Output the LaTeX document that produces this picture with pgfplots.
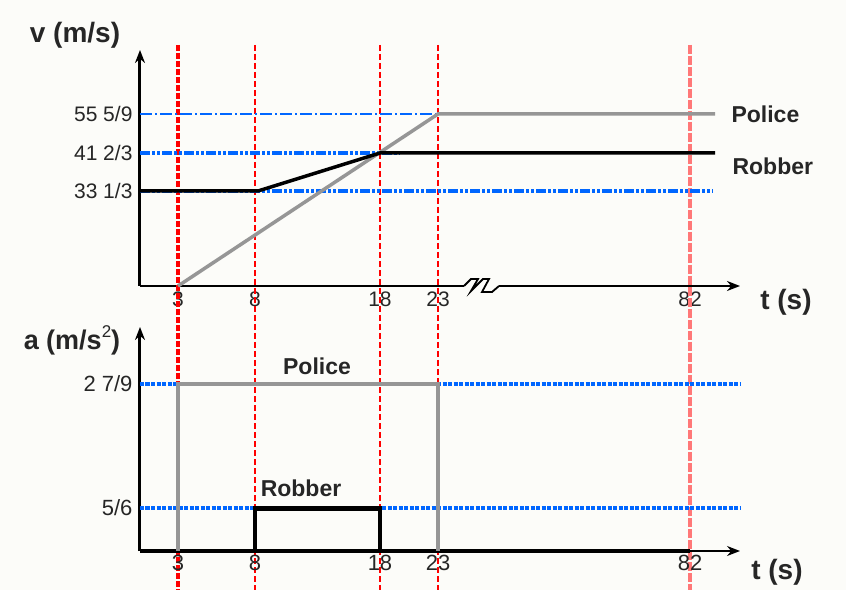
\documentclass[border=0pt]{standalone}
\usepackage{fontspec}
\setmainfont{Liberation Sans}
\usepackage{pgfplots}
\pgfplotsset{compat=1.18}
\usetikzlibrary{arrows.meta}
\definecolor{vblue}{RGB}{0,102,255}
\definecolor{pgray}{RGB}{150,150,150}
\definecolor{lred}{RGB}{255,120,120}
\definecolor{bg}{RGB}{252,252,249}
\begin{document}
\begin{tikzpicture}
\useasboundingbox (0,0) rectangle (846pt,590pt);
\fill[bg] (0,0) rectangle (846pt,590pt);
% ---------------- top panel: v(t) ----------------
\begin{axis}[
  at={(140pt,304pt)}, anchor=south west,
  x=1pt, y=1pt,
  xmin=140, xmax=740, ymin=0, ymax=236,
  axis lines=left, clip=false,
  x axis line style={line width=2.2pt,-{Stealth[length=13pt,width=10pt]}},
  y axis line style={line width=3pt,-{Stealth[length=13pt,width=10pt]}},
  xtick={178,255,380,438,690}, xticklabels={3,8,18,23,82},
  ytick={95,133,172}, yticklabels={33 1/3,41 2/3,55 5/9},
  major tick length=0pt,
  tick label style={font=\fontsize{21}{24}\selectfont, text=black!85},
  xticklabel style={yshift=-2pt},
  yticklabel style={xshift=-4pt},
]
% red vertical reference lines (span both panels)
\addplot[red, line width=3.5pt, dash pattern=on 6pt off 2pt] coordinates {(178,241) (178,-304)};
\addplot[red, line width=1.6pt, dash pattern=on 6pt off 3pt] coordinates {(255,241) (255,-304)};
\addplot[red, line width=1.6pt, dash pattern=on 6pt off 3pt] coordinates {(380,241) (380,-304)};
\addplot[red, line width=1.6pt, dash pattern=on 6pt off 3pt] coordinates {(438,241) (438,-304)};
\addplot[lred, line width=3.5pt, dash pattern=on 9pt off 2pt] coordinates {(690,241) (690,-304)};
% blue level lines
\addplot[vblue, line width=1.4pt, dash pattern=on 12pt off 3pt on 2pt off 3pt] coordinates {(140,172) (438,172)};
\addplot[vblue, line width=3.2pt, dash pattern=on 10pt off 2pt on 3pt off 2pt on 3pt off 2pt] coordinates {(140,133) (400,133)};
\addplot[vblue, line width=3.2pt, dash pattern=on 10pt off 2pt on 3pt off 2pt on 3pt off 2pt] coordinates {(140,95) (713,95)};
% police velocity
\addplot[pgray, line width=3.5pt] coordinates {(178,0) (438,172) (715,172)};
% robber velocity
\addplot[black, line width=3.5pt] coordinates {(140,95) (258,95) (380,133) (715,133)};
% axis break
\addplot[bg, line width=6pt] coordinates {(464,0) (499,0)};
\addplot[black, line width=1.8pt] coordinates {(464,0) (471,7) (478,7) (471,-5) (483,7) (489,7) (482,-6) (492,-6) (499,0)};
\node[anchor=west, font=\bfseries\fontsize{23}{26}\selectfont, text=black!85] at (axis cs:728,172) {Police};
\node[anchor=west, font=\bfseries\fontsize{23}{26}\selectfont, text=black!85] at (axis cs:729,120) {Robber};
\node[font=\bfseries\fontsize{28}{32}\selectfont, text=black!85] at (axis cs:75,251) {v (m/s)};
\node[font=\bfseries\fontsize{28}{32}\selectfont, text=black!85] at (axis cs:786,-16) {t (s)};
\end{axis}
% ---------------- bottom panel: a(t) ----------------
\begin{axis}[
  at={(140pt,39pt)}, anchor=south west,
  x=1pt, y=1pt,
  xmin=140, xmax=740, ymin=0, ymax=224,
  axis lines=left, clip=false,
  x axis line style={line width=1.5pt,-{Stealth[length=13pt,width=10pt]}},
  y axis line style={line width=3pt,-{Stealth[length=13pt,width=10pt]}},
  xtick={178,255,380,438,690}, xticklabels={3,8,18,23,82},
  ytick={43,167}, yticklabels={5/6,2 7/9},
  major tick length=0pt,
  tick label style={font=\fontsize{22}{25}\selectfont, text=black!85},
  xticklabel style={yshift=-1pt},
  yticklabel style={xshift=-4pt},
]
\addplot[vblue, line width=3.2pt, dash pattern=on 4pt off 1.5pt] coordinates {(140,167) (740,167)};
\addplot[vblue, line width=3.2pt, dash pattern=on 4pt off 1.5pt] coordinates {(140,43) (740,43)};
\addplot[black, line width=3.5pt] coordinates {(140,0) (690,0)};
% police acceleration
\addplot[pgray, line width=3.5pt] coordinates {(178,0) (178,167) (438,167) (438,0)};
% robber acceleration
\addplot[black, line width=3.2pt] coordinates {(255,0) (255,43) (380,43) (380,0)};
\addplot[black, line width=5pt] coordinates {(255,43) (380,43)};
\node[font=\bfseries\fontsize{23}{26}\selectfont, text=black!85] at (axis cs:317,185) {Police};
\node[font=\bfseries\fontsize{23}{26}\selectfont, text=black!85] at (axis cs:301,63) {Robber};
\node[font=\bfseries\fontsize{27}{30}\selectfont, text=black!85] at (axis cs:72,211) {a (m/s{\mdseries\raisebox{0.45em}{\fontsize{17}{19}\selectfont 2}})};
\node[font=\bfseries\fontsize{28}{32}\selectfont, text=black!85] at (axis cs:777,-21) {t (s)};
\end{axis}
\end{tikzpicture}
\end{document}
